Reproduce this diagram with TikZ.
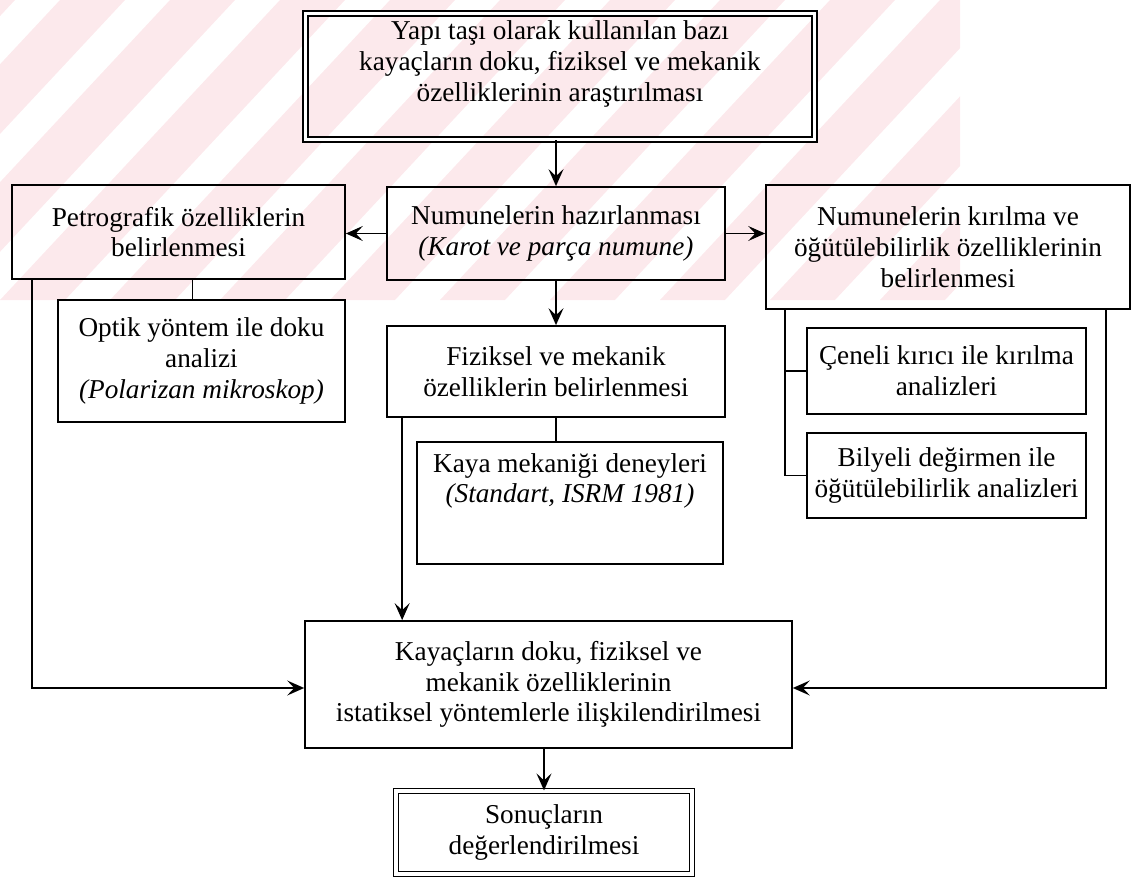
\documentclass[tikz,border=0pt]{standalone}
\usepackage{fontspec}
\setmainfont{Liberation Serif}
\usetikzlibrary{arrows.meta,positioning,calc}
\definecolor{wmpink}{RGB}{252,233,236}

\begin{document}
\begin{tikzpicture}[
  x=0.02cm, y=-0.02cm,
  font=\fontsize{15.5}{17.5}\selectfont,
  bx/.style={draw, line width=1pt, align=center, inner sep=2pt},
  dbl/.style={bx, double, double distance=1.8pt, line width=1.1pt},
  dbt/.style={bx, double, double distance=2pt, line width=0.7pt},
  a/.style={-{Stealth[length=3.4mm, width=3mm, inset=1.4mm]}, line width=1pt},
  ln/.style={line width=1pt}]

\useasboundingbox (0,0) rectangle (1134,879);

% ---------------- pale striped band behind the upper row ----------------
\begin{scope}
  \clip (0,0) rectangle (960,300);
  \foreach \s in {-330,-220,...,1100} {
    \fill[wmpink] (\s,300) -- ++(65,0) -- ++(280,-300) -- ++(-65,0) -- cycle;
  }
\end{scope}

% ---------------- the aim ------------------------------------------------
\node[dbl, minimum width=10.18cm, minimum height=2.52cm] (top) at (560,76.5)
      {Yapı taşı olarak kullanılan bazı\\kayaçların doku, fiziksel ve mekanik\\özelliklerinin araştırılması\\\mbox{}};

% ---------------- first row ----------------------------------------------
\node[bx, minimum width=6.66cm, minimum height=1.88cm] (petro) at (178.5,232)
      {Petrografik özelliklerin\\belirlenmesi};
\node[bx, minimum width=6.76cm, minimum height=1.86cm] (prep) at (556,233.5)
      {Numunelerin hazırlanması\\\textit{(Karot ve parça numune)}};
\node[bx, minimum width=7.28cm, minimum height=2.48cm] (crush) at (948,247)
      {Numunelerin kırılma ve\\öğütülebilirlik özelliklerinin\\belirlenmesi};

% ---------------- the analyses -------------------------------------------
\node[bx, minimum width=5.74cm, minimum height=2.44cm] (optik) at (201.5,361)
      {Optik yöntem ile doku\\analizi\\\textit{(Polarizan mikroskop)}};
\node[bx, minimum width=6.76cm, minimum height=1.82cm] (fiz) at (556,371.5)
      {Fiziksel ve mekanik\\özelliklerin belirlenmesi};
\node[bx, minimum width=6.12cm, minimum height=2.44cm] (kaya) at (570,503)
      {Kaya mekaniği deneyleri\\\textit{(Standart, ISRM 1981)}\\[11pt]\mbox{}};
\node[bx, minimum width=5.58cm, minimum height=1.72cm] (cen) at (946.5,371)
      {Çeneli kırıcı ile kırılma\\analizleri};
\node[bx, minimum width=5.58cm, minimum height=1.70cm] (bil) at (946.5,475.5)
      {Bilyeli değirmen ile\\öğütülebilirlik analizleri};

% ---------------- synthesis and result -----------------------------------
\node[bx, minimum width=9.74cm, minimum height=2.54cm] (stat) at (548.5,684.5)
      {Kayaçların doku, fiziksel ve\\mekanik özelliklerinin\\istatiksel yöntemlerle ilişkilendirilmesi};
\node[dbt, minimum width=5.92cm, minimum height=1.66cm] (sonuc) at (544,832.5)
      {Sonuçların\\değerlendirilmesi};

% ---------------- connectors ---------------------------------------------
\draw[a] (top.south -| prep.north) -- (prep.north);
\draw[a] (prep.west) -- (prep.west -| petro.east);
\draw[a] (prep.east) -- (prep.east -| crush.west);
\draw[a] (prep.south) -- (fiz.north);
\draw[a] (stat.south -| sonuc.north) -- (sonuc.north);

\coordinate (po) at ([xshift=-0.18cm]optik.north);
\draw[ln] (po |- petro.south) -- (po);
\draw[ln] (fiz.south) -- (fiz.south |- kaya.north);

\coordinate (cl) at ([xshift=0.4cm]crush.south west);
\draw[ln] (cl) |- (bil.west);
\draw[ln] (cl |- cen.west) -- (cen.west);

\coordinate (pl) at ([xshift=0.42cm]petro.south west);
\draw[a] (pl) |- ([yshift=-0.07cm]stat.west);
\coordinate (fl) at ([xshift=0.32cm]fiz.south west);
\draw[a] (fl) -- (fl |- stat.north);
\coordinate (cr) at ([xshift=-0.5cm]crush.south east);
\draw[a] (cr) |- ([yshift=-0.07cm]stat.east);
\end{tikzpicture}
\end{document}
